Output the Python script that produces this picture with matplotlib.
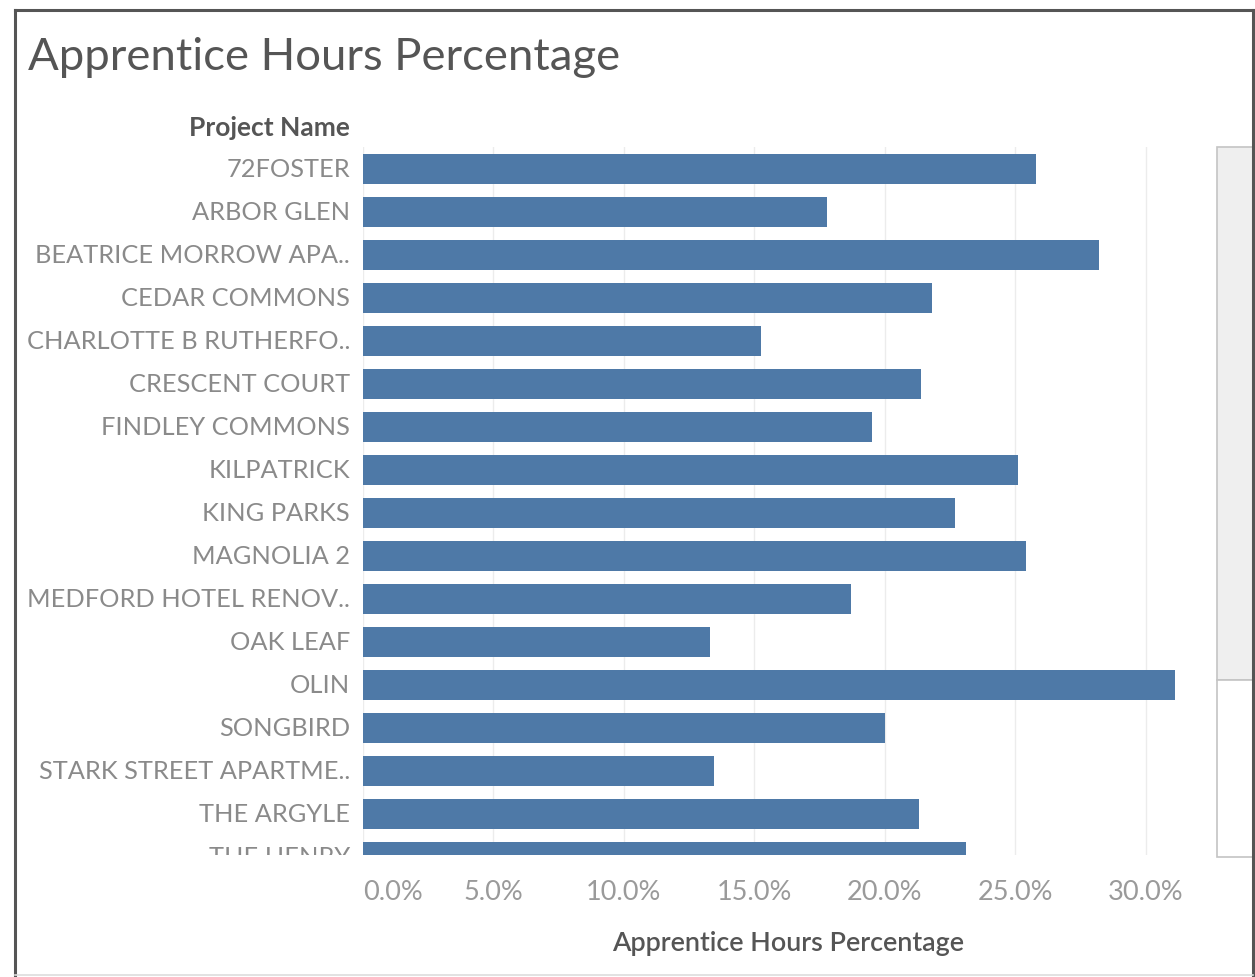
import matplotlib
matplotlib.use("Agg")
import matplotlib.pyplot as plt
import matplotlib.transforms as mtransforms
from matplotlib.patches import Rectangle
from matplotlib.lines import Line2D

# ---------------- data ----------------
projects = [
    "72FOSTER", "ARBOR GLEN", "BEATRICE MORROW APA..", "CEDAR COMMONS",
    "CHARLOTTE B RUTHERFO..", "CRESCENT COURT", "FINDLEY COMMONS", "KILPATRICK",
    "KING PARKS", "MAGNOLIA 2", "MEDFORD HOTEL RENOV..", "OAK LEAF", "OLIN",
    "SONGBIRD", "STARK STREET APARTME..", "THE ARGYLE", "THE HENRY",
]
apprentice_pct = [
    25.8, 17.8, 28.2, 21.8, 15.25, 21.4, 19.5, 25.1,
    22.7, 25.4, 18.7, 13.3, 31.1, 20.0, 13.45, 21.3, 23.1,
]
x_ticks = [0, 5, 10, 15, 20, 25, 30]
x_tick_labels = ["0.0%", "5.0%", "10.0%", "15.0%", "20.0%", "25.0%", "30.0%"]
title = "Apprentice Hours Percentage"
row_header = "Project Name"
x_title = "Apprentice Hours Percentage"

# ---------------- layout ----------------
W, H = 1255, 977
DPI = 100
plt.rcParams["font.family"] = ["Lato", "DejaVu Sans"]
fig = plt.figure(figsize=(W / DPI, H / DPI), dpi=DPI)
fig.patch.set_facecolor("white")

# pixel transform (origin top-left, y downward)
px = mtransforms.Affine2D().scale(1 / W, -1 / H).translate(0, 1) + fig.transFigure


def axes_px(x0, y0, x1, y1):
    return fig.add_axes([x0 / W, 1 - y1 / H, (x1 - x0) / W, (y1 - y0) / H])


plot_left, plot_right = 363, 1198
plot_top, plot_bottom = 147, 855
row_step = 43.0
row0_center = 169.0
y_top = (plot_top - row0_center) / row_step
y_bot = (plot_bottom - row0_center) / row_step

BAR_COLOR = "#4e79a7"
ax = axes_px(plot_left, plot_top, plot_right, plot_bottom)
ypos = list(range(len(projects)))
ax.barh(ypos, apprentice_pct, height=0.72, color=BAR_COLOR, zorder=3)
ax.set_xlim(0, 32)
ax.set_ylim(y_bot, y_top)
ax.set_yticks([])
ax.set_xticks(x_ticks)
ax.set_xticklabels(x_tick_labels)
ax.tick_params(axis="x", length=0, pad=18, colors="#9a9a9a", labelsize=14)
for s in ax.spines.values():
    s.set_visible(False)
ax.grid(axis="x", color="#ececec", linewidth=1.0, zorder=0)
ax.set_axisbelow(True)
ax.get_xticklabels()[0].set_horizontalalignment("left")

# row labels in their own clipped axes
lab_ax = axes_px(0, plot_top, 360, plot_bottom)
lab_ax.set_xlim(0, 360)
lab_ax.set_ylim(y_bot, y_top)
lab_ax.axis("off")
row_texts = []
for i, name in enumerate(projects):
    t = lab_ax.text(350, i, name, ha="right", va="center", color="#8a8a8a",
                    fontsize=16, clip_on=True)
    row_texts.append(t)

# texts
t_title = fig.text(28, 58, title, transform=px, ha="left", va="center",
                   color="#555555", fontsize=28)
t_header = fig.text(350, 128, row_header, transform=px, ha="right", va="center",
                    color="#555555", fontsize=15, fontweight="bold")
t_xtitle = fig.text(788, 944, x_title, transform=px, ha="center", va="center",
                    color="#555555", fontsize=15, fontweight="semibold")

# fit font sizes to measured widths
fig.canvas.draw()
r = fig.canvas.get_renderer()


def fit(t, target):
    w = t.get_window_extent(r).width
    t.set_fontsize(t.get_fontsize() * target / w)


fit(t_title, 592)
fit(t_header, 162)
fit(t_xtitle, 354)
w_ref = row_texts[2].get_window_extent(r).width
fs_rows = row_texts[2].get_fontsize() * 315 / w_ref
for t in row_texts:
    t.set_fontsize(fs_rows)
tl = ax.get_xticklabels()[-1]
w_tl = tl.get_window_extent(r).width
ax.tick_params(axis="x", labelsize=14 * 76 / w_tl)

# scrollbar
fig.add_artist(Rectangle((1217, 147), 36, 533, transform=px, facecolor="#efefef",
                         edgecolor="#c4c4c4", linewidth=1.2))
fig.add_artist(Rectangle((1217, 680), 36, 177, transform=px, facecolor="white",
                         edgecolor="#c4c4c4", linewidth=1.2))

# frame
fig.add_artist(Line2D([15, 15], [10, 977], transform=px, color="#555555", linewidth=2.2))
fig.add_artist(Line2D([15, 1253], [10, 10], transform=px, color="#555555", linewidth=2.2))
fig.add_artist(Line2D([1253, 1253], [10, 977], transform=px, color="#555555", linewidth=2.2))
fig.add_artist(Line2D([15, 1253], [975, 975], transform=px, color="#dddddd", linewidth=1.2))

fig.savefig("out.png", dpi=DPI, facecolor="white")
